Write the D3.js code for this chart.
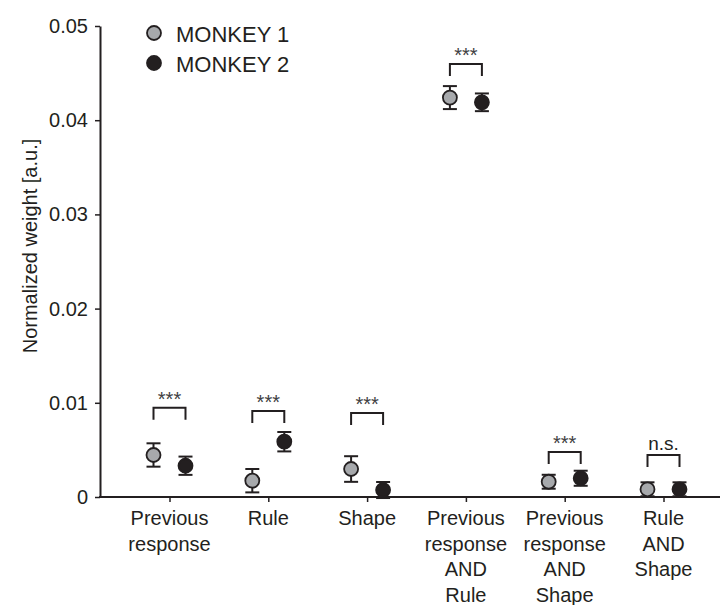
<!DOCTYPE html>
<html>
<head>
<meta charset="utf-8">
<script src="https://cdn.jsdelivr.net/npm/d3@7"></script>
<style>
  html, body { margin: 0; padding: 0; background: #fff; }
  svg { display: block; font-family: 'Liberation Sans', Arial, sans-serif; }
</style>
</head>
<body>
<svg id="chart" width="723" height="605"></svg>
<script>
// categories (each label split into lines)
const categories = [
  ['Previous', 'response'],
  ['Rule'],
  ['Shape'],
  ['Previous', 'response', 'AND', 'Rule'],
  ['Previous', 'response', 'AND', 'Shape'],
  ['Rule', 'AND', 'Shape']
];
const seriesNames = ['MONKEY 1', 'MONKEY 2'];
const monkey1 = [0.00446, 0.00173, 0.00297, 0.0424, 0.00162, 0.00082];
const monkey1Err = [0.00124, 0.00124, 0.00136, 0.00122, 0.00074, 0.00074];
const monkey2 = [0.00332, 0.00587, 0.00074, 0.0419, 0.00199, 0.00082];
const monkey2Err = [0.00097, 0.00103, 0.00085, 0.00094, 0.0008, 0.00074];
const sigLevel = [0.00948, 0.00913, 0.00892, 0.04597, 0.00478, 0.00446];
const sigLabel = ['***', '***', '***', '***', '***', 'n.s.'];
const yTicks = [0, 0.01, 0.02, 0.03, 0.04, 0.05];

const ink = '#231f20';
const colors = ['#a7a9ac', ink];
const offsets = [-16, 16];

const svg = d3.select('#chart');
const keys = categories.map(c => c.join(' '));

const x = d3.scalePoint().domain(keys).range([169.5, 663.5]);
const y = d3.scaleLinear().domain([0, 0.05]).range([497, 26]);

// y axis
const yAxis = svg.append('g')
  .attr('transform', 'translate(100,0)')
  .call(d3.axisLeft(y).tickValues(yTicks).tickSize(5).tickSizeOuter(0).tickPadding(7)
    .tickFormat(d => d === 0 ? '0' : d3.format('.2f')(d)));
yAxis.select('.domain').attr('stroke', ink).attr('stroke-width', 2);
yAxis.selectAll('.tick line').attr('stroke', ink).attr('stroke-width', 1.5);
yAxis.selectAll('.tick text').attr('fill', ink).style('font-size', '20px');

// x axis
const xAxis = svg.append('g')
  .attr('transform', `translate(0,${y(0)})`)
  .call(d3.axisBottom(x).tickSize(5).tickSizeOuter(0).tickFormat(''));
xAxis.select('.domain').remove();
xAxis.selectAll('.tick line').attr('stroke', ink).attr('stroke-width', 1.5);
xAxis.append('line')
  .attr('x1', 99).attr('x2', 720)
  .attr('stroke', ink).attr('stroke-width', 2);

// x labels
const labels = svg.append('g').attr('fill', ink).style('font-size', '20px');
categories.forEach((lines, i) => {
  const t = labels.append('text')
    .attr('text-anchor', 'middle')
    .attr('x', x(keys[i]))
    .attr('y', 525);
  lines.forEach((ln, j) => {
    t.append('tspan').attr('x', x(keys[i])).attr('dy', j === 0 ? 0 : 25.5).text(ln);
  });
});

// y title
svg.append('text')
  .attr('transform', 'translate(37,246) rotate(-90)')
  .attr('text-anchor', 'middle')
  .attr('fill', ink)
  .style('font-size', '20px')
  .text('Normalized weight [a.u.]');

// points with error bars
[[monkey1, monkey1Err], [monkey2, monkey2Err]].forEach(([vals, errs], s) => {
  const g = svg.append('g');
  vals.forEach((v, i) => {
    const cx = x(keys[i]) + offsets[s];
    const lo = y(v - errs[i]), hi = y(v + errs[i]);
    g.append('line').attr('x1', cx).attr('x2', cx).attr('y1', lo).attr('y2', hi)
      .attr('stroke', ink).attr('stroke-width', 2);
    [lo, hi].forEach(yy => {
      g.append('line').attr('x1', cx - 7).attr('x2', cx + 7).attr('y1', yy).attr('y2', yy)
        .attr('stroke', ink).attr('stroke-width', 2);
    });
    g.append('circle').attr('cx', cx).attr('cy', y(v)).attr('r', 7)
      .attr('fill', colors[s]).attr('stroke', ink).attr('stroke-width', 1.8);
  });
});

// significance brackets
sigLevel.forEach((lvl, i) => {
  const x0 = x(keys[i]) + offsets[0];
  const x1 = x(keys[i]) + offsets[1];
  const top = y(lvl);
  svg.append('path')
    .attr('d', `M${x0},${top + 12}V${top}H${x1}V${top + 12}`)
    .attr('fill', 'none').attr('stroke', ink).attr('stroke-width', 2);
  const stars = sigLabel[i] === '***';
  svg.append('text')
    .attr('x', (x0 + x1) / 2)
    .attr('y', stars ? top - 2 : top - 5)
    .attr('text-anchor', 'middle')
    .attr('fill', stars ? '#414042' : ink)
    .style('font-size', stars ? '20px' : '19px')
    .text(sigLabel[i]);
});

// legend
const legend = svg.append('g');
seriesNames.forEach((name, s) => {
  const ly = 33 + s * 30;
  legend.append('circle').attr('cx', 154).attr('cy', ly).attr('r', 7)
    .attr('fill', colors[s]).attr('stroke', ink).attr('stroke-width', 1.8);
  legend.append('text').attr('x', 176).attr('y', ly + 8.5)
    .attr('fill', ink).style('font-size', '22px').text(name);
});
</script>
</body>
</html>
